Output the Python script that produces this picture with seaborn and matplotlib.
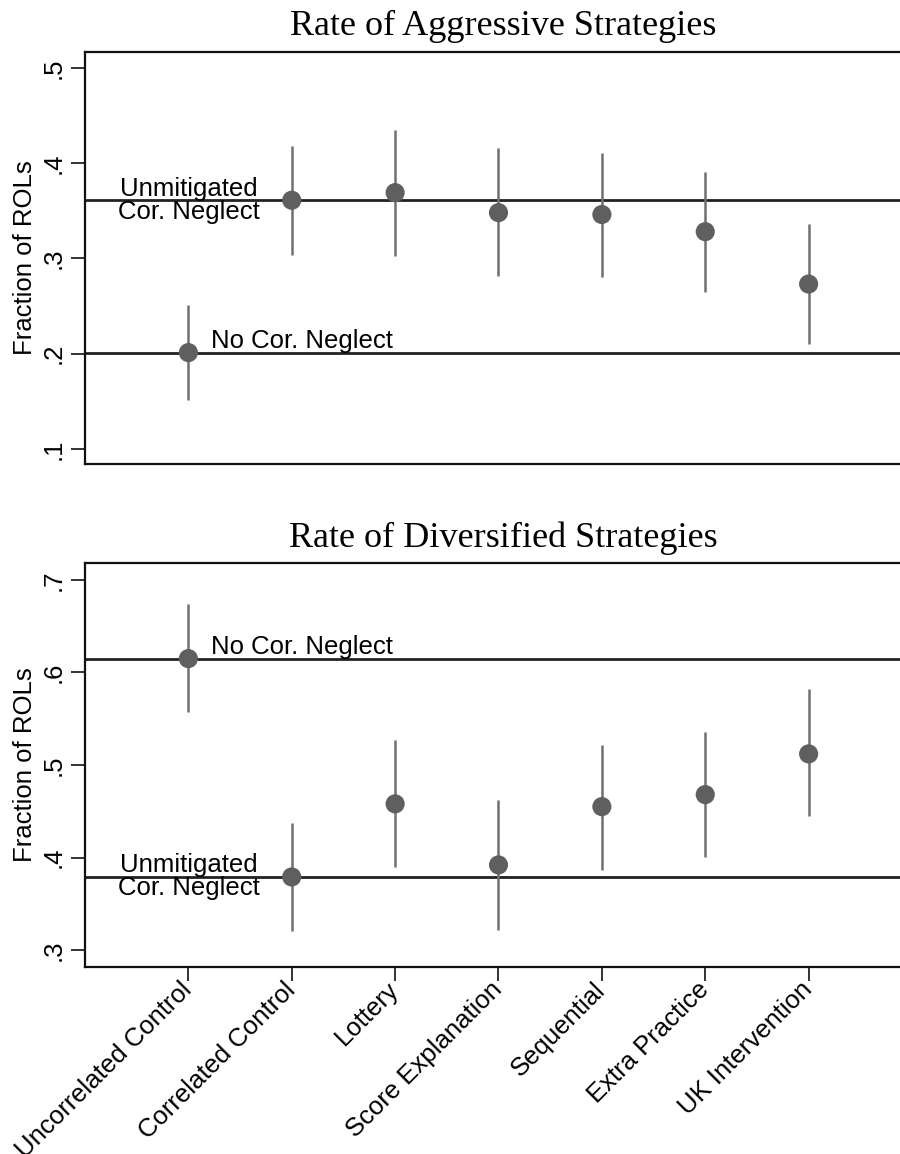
import numpy as np
import pandas as pd
import matplotlib
matplotlib.use("Agg")
import matplotlib.pyplot as plt
import seaborn as sns

categories = ["Uncorrelated Control", "Correlated Control", "Lottery",
              "Score Explanation", "Sequential", "Extra Practice", "UK Intervention"]

aggr_mean = [0.201, 0.361, 0.369, 0.348, 0.346, 0.328, 0.273]
aggr_lo = [0.151, 0.304, 0.302, 0.281, 0.280, 0.265, 0.210]
aggr_hi = [0.251, 0.418, 0.435, 0.416, 0.411, 0.391, 0.336]
aggr_ref_none = 0.201
aggr_ref_unmit = 0.361
aggr_ticks = [0.1, 0.2, 0.3, 0.4, 0.5]
aggr_ticklabels = [".1", ".2", ".3", ".4", ".5"]

div_mean = [0.615, 0.379, 0.458, 0.392, 0.455, 0.468, 0.512]
div_lo = [0.557, 0.321, 0.390, 0.322, 0.387, 0.401, 0.445]
div_hi = [0.674, 0.437, 0.527, 0.462, 0.522, 0.536, 0.582]
div_ref_none = 0.615
div_ref_unmit = 0.379
div_ticks = [0.3, 0.4, 0.5, 0.6, 0.7]
div_ticklabels = [".3", ".4", ".5", ".6", ".7"]

titles = ["Rate of Aggressive Strategies", "Rate of Diversified Strategies"]
ylabel = "Fraction of ROLs"

sns.set_theme(style="white")
plt.rcParams['font.family'] = ['Liberation Sans', 'DejaVu Sans']
plt.rcParams['text.color'] = 'black'
plt.rcParams['axes.labelcolor'] = 'black'
plt.rcParams['xtick.color'] = 'black'
plt.rcParams['ytick.color'] = 'black'

W, H = 900, 1154
fig = plt.figure(figsize=(W / 100, H / 100), dpi=100)

def px_axes(left, top, right, bottom):
    return fig.add_axes([left / W, 1 - bottom / H, (right - left) / W, (bottom - top) / H])

ax1 = px_axes(85, 51.7, 912, 464)
ax2 = px_axes(85, 563.3, 912, 966.7)

point_color = "#5f5f5f"
ci_color = "#707070"
line_color = "#222222"
FS = 18.5

panels = [
    (ax1, aggr_mean, aggr_lo, aggr_hi, aggr_ref_none, aggr_ref_unmit, (0.084, 0.517), aggr_ticks, aggr_ticklabels, titles[0]),
    (ax2, div_mean, div_lo, div_hi, div_ref_none, div_ref_unmit, (0.282, 0.718), div_ticks, div_ticklabels, titles[1]),
]

xpos = np.arange(1, len(categories) + 1)

for i, (ax, m, lo, hi, ref_none, ref_unmit, ylim, ticks, tlabels, title) in enumerate(panels):
    df = pd.DataFrame({"x": xpos, "mean": m, "lo": lo, "hi": hi, "cat": categories})
    ax.axhline(ref_none, color=line_color, lw=2.0, zorder=1)
    ax.axhline(ref_unmit, color=line_color, lw=2.0, zorder=1)
    ax.vlines(df["x"], df["lo"], df["hi"], color=ci_color, lw=1.8, zorder=2)
    sns.scatterplot(data=df, x="x", y="mean", ax=ax, s=190, color=point_color,
                    edgecolor="none", zorder=3, legend=False)
    ax.set_xlim(0, 8)
    ax.set_ylim(*ylim)
    ax.set_yticks(ticks)
    ax.set_yticklabels(tlabels, rotation=90, va="center", fontsize=FS, color="black")
    ax.set_ylabel(ylabel, fontsize=FS, labelpad=3, color="black")
    ax.set_xlabel("")
    ax.set_xticks(xpos)
    for s in ["left", "top", "bottom"]:
        ax.spines[s].set_visible(True)
        ax.spines[s].set_color("#111111")
        ax.spines[s].set_linewidth(1.6)
    ax.spines["right"].set_visible(False)
    ax.tick_params(axis="y", left=True, length=10, width=1.2, color="#111111", pad=4)
    if i == 0:
        ax.tick_params(axis="x", bottom=False, labelbottom=False)
    else:
        ax.tick_params(axis="x", bottom=True, length=10, width=1.2, color="#111111", pad=4)
        ax.set_xticklabels(categories, rotation=45, ha="right", va="center",
                           rotation_mode="anchor", fontsize=FS, color="black")
    ax.text(1.0, ref_unmit, "Unmitigated\nCor. Neglect", ha="center", va="center",
            fontsize=FS, linespacing=0.95, color="black", zorder=4)
    ax.text(1.22, ref_none, "No Cor. Neglect", ha="left", va="bottom",
            fontsize=FS, color="black", zorder=4)
    ax.set_title(title, family="Liberation Serif", fontsize=26, pad=12, color="black",
                 x=(503 - 85) / (912 - 85))
    ax.grid(False)

fig.savefig("out.png", dpi=100)
